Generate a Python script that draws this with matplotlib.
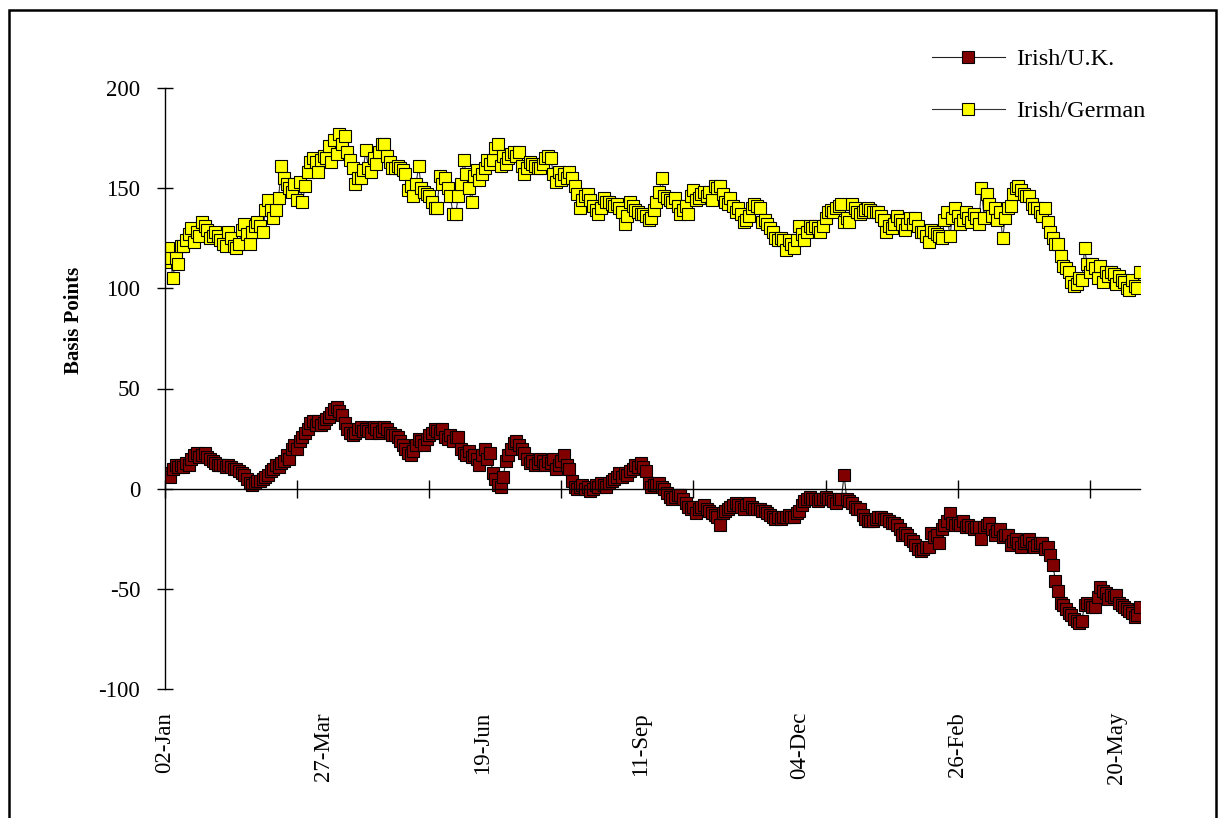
import matplotlib as mpl
mpl.use('Agg')
import matplotlib.pyplot as plt
from matplotlib.patches import Rectangle
import numpy as np

plt.rcParams['font.family'] = ['Liberation Serif', 'DejaVu Serif']
plt.rcParams['axes.unicode_minus'] = False

# daily spreads (basis points)
irish_uk = [
    7, 8, 6, 10, 12, 11, 12, 11, 13, 12,
    15, 17, 18, 16, 17, 18, 16, 15, 14, 13,
    12, 12, 12, 11, 12, 11, 10, 10, 9, 8,
    7, 5, 3, 2, 3, 4, 4, 5, 6, 7,
    9, 10, 12, 11, 13, 14, 17, 15, 20, 22,
    20, 24, 26, 28, 30, 33, 34, 32, 34, 32,
    33, 35, 36, 38, 40, 41, 39, 37, 33, 30,
    28, 27, 28, 30, 31, 29, 30, 29, 28, 31,
    30, 28, 29, 31, 30, 28, 27, 27, 26, 24,
    22, 20, 18, 17, 19, 22, 25, 24, 22, 25,
    27, 28, 30, 29, 28, 30, 26, 25, 27, 24,
    26, 26, 20, 18, 17, 19, 16, 17, 15, 12,
    17, 20, 15, 18, 8, 5, 2, 1, 6, 14,
    17, 20, 23, 24, 22, 20, 18, 15, 13, 14,
    12, 13, 15, 14, 12, 14, 13, 15, 10, 12,
    14, 17, 12, 10, 4, 1, 0, 1, 2, 0,
    1, -1, 0, 2, 1, 3, 2, 1, 3, 4, 5, 6, 8,
    6, 8, 7, 9, 10, 12, 11, 13,
    11, 9, 3, 1, 2, 2, 3, 1, 0, -2,
    -4, -5, -4, -3, -3, -5, -7, -9, -10, -9,
    -12, -10, -9, -8, -10, -11, -12, -13, -14, -18,
    -12, -11, -10, -9, -8, -7, -8, -9, -10, -8,
    -7, -9, -10, -10, -10, -11, -11, -12, -13, -14,
    -15, -14, -15, -14, -14, -13, -14, -14, -12, -11,
    -8, -6, -5, -4, -5, -5, -6, -5,
    -5, -4, -5, -5, -6, -7, -5, -5, 7, -5,
    -6, -7, -9, -10, -10, -13, -15, -16, -16, -16,
    -15, -14, -14, -15, -15, -16, -17, -17, -18, -20,
    -23, -22, -23, -25, -26, -28, -30, -31, -30, -29,
    -29, -22, -24, -23, -27, -20, -18, -16, -12, -17,
    -18, -17, -18, -16, -19, -18, -19, -20, -19, -19,
    -25, -19, -18, -17, -20, -23, -21, -20,
    -24, -23, -23, -28, -26, -25, -27, -29, -27, -26,
    -25, -27, -29, -28, -27, -27, -30, -29, -33, -38,
    -46, -51, -57, -58, -60, -62, -63, -65, -66, -67,
    -66, -58, -57, -58, -59, -59, -54, -49, -51, -52,
    -55, -53, -54, -53, -57, -58, -59, -60, -61, -62,
    -64, -63, -59,
]

irish_german = [
    113, 120, 115, 105, 115, 112, 121, 121, 124, 127, 130,
    123, 128, 126, 133, 131, 129, 125, 126, 128, 126, 124, 122, 121,
    128, 125, 121, 120, 122, 129, 132, 127, 122, 128, 131, 133, 131,
    128, 139, 144, 139, 135, 139, 145, 161, 155, 152, 150, 148,
    152, 144, 153, 143, 151, 158, 163, 165, 163, 158, 164, 166, 165,
    171, 163, 174, 167, 177, 172, 176, 168, 164, 160, 152, 155,
    155, 159, 169, 160, 158, 165, 162, 168, 172, 172, 166, 163, 160,
    160, 161, 160, 159, 157, 149, 151, 146, 152, 161, 150, 148, 147,
    146, 143, 140, 140, 156, 152, 155, 150, 146, 137, 137, 146,
    152, 164, 157, 150, 143, 156, 159, 154, 157, 160, 164, 162,
    164, 170, 172, 161, 166, 162, 165, 167, 168, 166,
    168, 161, 157, 160, 163, 162, 161, 160, 160, 162, 165, 166, 165,
    157, 153, 158, 154, 157, 155, 158, 155, 151, 147, 140, 144, 146,
    147, 144, 141, 139, 137, 140, 145, 143, 143, 142, 141, 142,
    140, 138, 132, 136, 143, 141, 139, 138, 137, 137, 136, 134, 135,
    139, 143, 148, 155, 146, 145, 144, 143, 145, 141, 137, 139,
    141, 137, 146, 149, 144, 145, 147, 148, 146, 148, 144, 151, 150,
    151, 147, 143, 142, 145, 141, 138, 140, 137, 133, 134, 136,
    140, 142, 141, 140, 133, 134, 132, 130, 128, 125, 124, 125, 124,
    119, 124, 122, 120, 124, 131, 127, 124, 128, 131, 130, 131,
    130, 128, 131, 135, 138, 139, 138, 140, 141, 142,
    133, 135, 133, 142, 140, 138, 137, 138, 139, 140, 139, 138, 138,
    138, 136, 134, 128, 131, 130, 132, 136, 134, 132, 129, 132, 135,
    132, 135, 131, 128, 128, 126, 123, 129, 128, 127, 126, 125,
    134, 138, 126, 135, 140, 136, 132, 134, 138, 135, 133, 137, 135,
    132, 150, 135, 147, 142, 136, 140, 134, 138, 125, 135, 140,
    141, 147, 150, 151, 149, 147, 146, 146, 142, 140, 140, 138, 136,
    140, 133, 128, 125, 122, 122, 116, 111, 110, 108, 103, 101, 102,
    105, 104, 120, 112, 108, 112, 110, 105, 111, 103, 108, 106, 108,
    107, 102, 106, 104, 103, 100, 99, 104, 101, 100, 108,
]

date_labels = ['02-Jan', '27-Mar', '19-Jun', '11-Sep', '04-Dec', '26-Feb', '20-May']

x_uk = np.arange(len(irish_uk))
x_de = np.arange(len(irish_german))
n = max(len(irish_uk), len(irish_german))

fig = plt.figure(figsize=(12.24, 8.18), dpi=100)
ax = fig.add_axes([165/1224, 1 - 689/818, 975/1224, 601/818])

ax.plot(x_uk, irish_uk, color='#222222', lw=0.8, marker='s', ms=8.4,
        mfc='#800000', mec='black', mew=0.8, label='Irish/U.K.')
ax.plot(x_de, irish_german, color='#333333', lw=0.8, marker='s', ms=8.4,
        mfc='#FFFF00', mec='black', mew=0.8, label='Irish/German')

ax.set_xlim(0, n - 1)
ax.set_ylim(-100, 200)
ax.set_yticks(np.arange(-100, 201, 50))
ax.tick_params(axis='y', direction='inout', length=11.5, width=1, pad=12, labelsize=16.5)

ax.spines['bottom'].set_position(('data', 0))
ax.spines['top'].set_visible(False)
ax.spines['right'].set_visible(False)
ax.spines['left'].set_linewidth(1)
ax.spines['bottom'].set_linewidth(1)
ax.set_xticks(np.arange(0, n, 50))
ax.tick_params(axis='x', direction='inout', length=13, width=1, labelbottom=False)

# date labels sit below the plot, spaced differently from the tick marks
sec = ax.secondary_xaxis('bottom')
sec.set_xticks(np.arange(0, n, 60), labels=date_labels)
sec.tick_params(length=0, pad=16.5, labelsize=16.5, labelrotation=90)
sec.spines['bottom'].set_visible(False)

ax.set_ylabel('Basis Points', fontsize=15, fontweight='bold')
ax.yaxis.set_label_coords(-0.083, 0.614)

ax.legend(loc='upper left', bbox_to_anchor=(932/1224, 1 - 48/818),
          bbox_transform=fig.transFigure, frameon=False, fontsize=17.5,
          handlelength=3.0, handletextpad=0.45, labelspacing=1.25,
          borderpad=0, borderaxespad=0)

fig.patches.append(Rectangle((9/1224, -0.05), 1207/1224, 1.05 - 9.5/818,
                             transform=fig.transFigure, fill=False,
                             edgecolor='black', lw=1.8))

plt.savefig('out.png', dpi=100)
